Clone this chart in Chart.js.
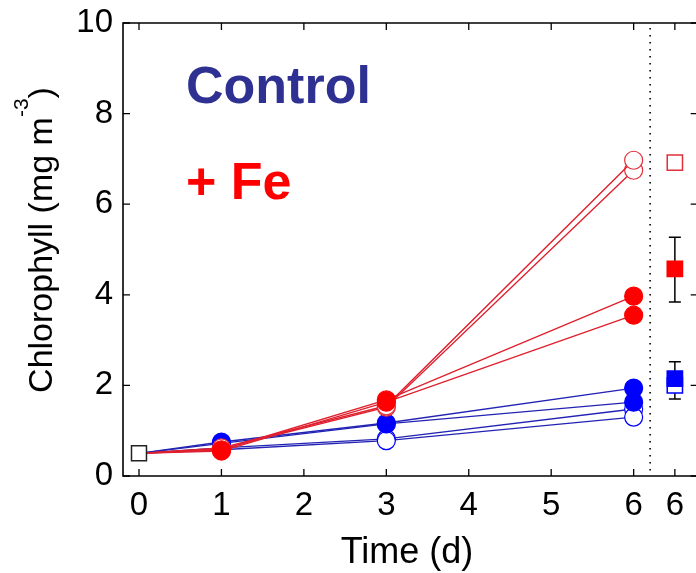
<!DOCTYPE html>
<html>
<head>
<meta charset="utf-8">
<script src="https://cdn.jsdelivr.net/npm/chart.js@4"></script>
<style>
  html, body { margin: 0; padding: 0; background: #fff; overflow: hidden; }
  #wrap { width: 696px; height: 573px; overflow: hidden; }
</style>
</head>
<body>
<div id="wrap"><canvas id="chlCanvas" width="710" height="573"></canvas></div>
<script>
// sampling days
const days = [0, 1, 3, 6];

// chlorophyll, mg m-3 (two replicates each)
const ctrlFilledA = [0.5, 0.75, 1.17, 1.94];
const ctrlFilledB = [0.5, 0.72, 1.15, 1.63];
const ctrlOpenA   = [0.5, 0.62, 0.82, 1.48];
const ctrlOpenB   = [0.5, 0.58, 0.78, 1.30];
const feFilledA   = [0.5, 0.58, 1.68, 3.97];
const feFilledB   = [0.5, 0.55, 1.63, 3.55];
const feOpenA     = [0.5, 0.62, 1.55, 6.97];
const feOpenB     = [0.5, 0.60, 1.52, 6.75];

// right hand panel (day 6 means): Fe open, Fe filled, Ctrl open, Ctrl filled
const summaryX    = 6.5;
const summaryMean = [6.92, 4.57, 2.00, 2.15];
const summaryLow  = [null, 3.84, null, 1.70];
const summaryHigh = [null, 5.27, null, 2.52];

const separatorAt = 6.2;
const xTickValues = [0, 1, 2, 3, 4, 5, 6, 6.5];
const xTickLabels = ['0', '1', '2', '3', '4', '5', '6', '6'];
const yTickValues = [0, 2, 4, 6, 8, 10];

const FONT = '"Liberation Sans", Arial, Helvetica, sans-serif';
const BLUE = '#0000ff';
const BLUE_LINE = '#2323b4';
const RED = '#ff0000';
const RED_LINE = '#e0202e';

function lineSet(values, color, lineColor, filled) {
  return {
    data: days.map((d, i) => ({ x: d, y: values[i] })),
    showLine: true,
    borderColor: lineColor,
    borderWidth: 1.4,
    tension: 0,
    pointRadius: [0, 9, 9, 9],
    pointBackgroundColor: filled ? color : '#ffffff',
    pointBorderColor: color,
    pointBorderWidth: 1.2
  };
}

function squareSet(i, color, filled) {
  return {
    data: [{ x: summaryX, y: summaryMean[i] }],
    pointStyle: 'rect',
    pointRadius: 10.8,
    pointBackgroundColor: filled ? color : '#ffffff',
    pointBorderColor: color,
    pointBorderWidth: 1.5
  };
}

// first dataset is drawn on top
const datasets = [
  { data: [{ x: days[0], y: feOpenA[0] }], pointStyle: 'rect', pointRadius: 10.6,
    pointBackgroundColor: '#ffffff', pointBorderColor: '#222', pointBorderWidth: 1.5 },
  squareSet(1, RED, true),
  squareSet(0, '#e0303c', false),
  squareSet(3, BLUE, true),
  squareSet(2, BLUE, false),
  lineSet(feFilledA, RED, RED_LINE, true),
  lineSet(feFilledB, RED, RED_LINE, true),
  lineSet(feOpenA, '#e0303c', RED_LINE, false),
  lineSet(feOpenB, '#e0303c', RED_LINE, false),
  lineSet(ctrlFilledA, BLUE, BLUE_LINE, true),
  lineSet(ctrlFilledB, BLUE, BLUE_LINE, true),
  lineSet(ctrlOpenB, BLUE, BLUE_LINE, false),
  lineSet(ctrlOpenA, BLUE, BLUE_LINE, false)
];

const framePlugin = {
  id: 'frame',
  beforeDatasetsDraw(chart) {
    const { ctx, chartArea: a, scales: { x, y } } = chart;
    // dotted separator between panels
    ctx.save();
    ctx.strokeStyle = '#000';
    ctx.lineWidth = 1.6;
    ctx.setLineDash([1.6, 5.4]);
    const xs = x.getPixelForValue(separatorAt);
    ctx.beginPath();
    ctx.moveTo(xs, a.top + 5);
    ctx.lineTo(xs, a.bottom);
    ctx.stroke();
    ctx.setLineDash([]);
    // error bars
    ctx.lineWidth = 1.5;
    const xp = x.getPixelForValue(summaryX);
    summaryMean.forEach((m, i) => {
      if (summaryLow[i] == null) return;
      const lo = y.getPixelForValue(summaryLow[i]);
      const hi = y.getPixelForValue(summaryHigh[i]);
      ctx.beginPath();
      ctx.moveTo(xp, lo); ctx.lineTo(xp, hi);
      ctx.moveTo(xp - 6, lo); ctx.lineTo(xp + 6, lo);
      ctx.moveTo(xp - 6, hi); ctx.lineTo(xp + 6, hi);
      ctx.stroke();
    });
    ctx.restore();
  },
  afterDraw(chart) {
    const { ctx, chartArea: a, scales: { x, y } } = chart;
    ctx.save();
    ctx.strokeStyle = '#000';
    ctx.lineWidth = 1.6;
    // box (right edge falls off the picture)
    ctx.beginPath();
    ctx.rect(a.left, a.top, a.right - a.left, a.bottom - a.top);
    ctx.stroke();
    // inward ticks
    ctx.lineWidth = 1.3;
    ctx.beginPath();
    xTickValues.forEach(v => {
      const px = x.getPixelForValue(v);
      ctx.moveTo(px, a.bottom); ctx.lineTo(px, a.bottom - 7);
      ctx.moveTo(px, a.top); ctx.lineTo(px, a.top + 7);
    });
    yTickValues.forEach(v => {
      const py = y.getPixelForValue(v);
      ctx.moveTo(a.left, py); ctx.lineTo(a.left + 7, py);
      ctx.moveTo(a.right, py); ctx.lineTo(a.right - 7, py);
    });
    ctx.stroke();

    // x axis title
    ctx.fillStyle = '#000';
    ctx.font = '36px ' + FONT;
    ctx.textAlign = 'center';
    ctx.textBaseline = 'alphabetic';
    ctx.fillText('Time (d)', 407, 563);

    // y axis title with superscript
    ctx.translate(52, 240);
    ctx.rotate(-Math.PI / 2);
    ctx.textAlign = 'left';
    const main = 'Chlorophyll (mg m';
    ctx.font = '34px ' + FONT;
    const w1 = ctx.measureText(main).width;
    const w3 = ctx.measureText(')').width;
    ctx.font = '21px ' + FONT;
    const w2 = ctx.measureText('-3').width;
    let tx = -(w1 + w2 + w3) / 2;
    ctx.font = '34px ' + FONT;
    ctx.fillText(main, tx, 0);
    tx += w1;
    ctx.font = '21px ' + FONT;
    ctx.fillText('-3', tx, -24);
    tx += w2;
    ctx.font = '34px ' + FONT;
    ctx.fillText(')', tx, 0);
    ctx.restore();

    // in-plot labels
    ctx.save();
    ctx.font = 'bold 52px ' + FONT;
    ctx.textAlign = 'left';
    ctx.fillStyle = '#2e3192';
    ctx.fillText('Control', 186, 103);
    ctx.fillStyle = '#ff0000';
    ctx.fillText('+ Fe', 186, 199);
    ctx.restore();
  }
};

const ctx = document.getElementById('chlCanvas').getContext('2d');
const chlChart = new Chart(ctx, {
  type: 'scatter',
  data: { datasets: datasets },
  options: {
    responsive: false,
    animation: false,
    events: [],
    layout: { padding: { top: 23, right: 3, left: 0, bottom: 0 } },
    plugins: { legend: { display: false }, tooltip: { enabled: false } },
    scales: {
      x: {
        type: 'linear',
        min: -0.194,
        max: 6.777,
        afterBuildTicks: s => { s.ticks = xTickValues.map(v => ({ value: v })); },
        afterFit: s => { s.height = 97; s.paddingLeft = 0; s.paddingRight = 0; },
        ticks: {
          callback: (v, i) => xTickLabels[i],
          font: { family: FONT, size: 33 },
          color: '#000',
          padding: 10,
          maxRotation: 0,
          autoSkip: false
        },
        grid: { display: false, drawTicks: false },
        border: { display: false }
      },
      y: {
        min: 0,
        max: 10,
        afterBuildTicks: s => { s.ticks = yTickValues.map(v => ({ value: v })); },
        afterFit: s => { s.width = 123; s.paddingTop = 0; s.paddingBottom = 0; },
        ticks: {
          font: { family: FONT, size: 33 },
          color: '#000',
          padding: 10
        },
        grid: { display: false, drawTicks: false },
        border: { display: false }
      }
    }
  },
  plugins: [framePlugin]
});
</script>
</body>
</html>
